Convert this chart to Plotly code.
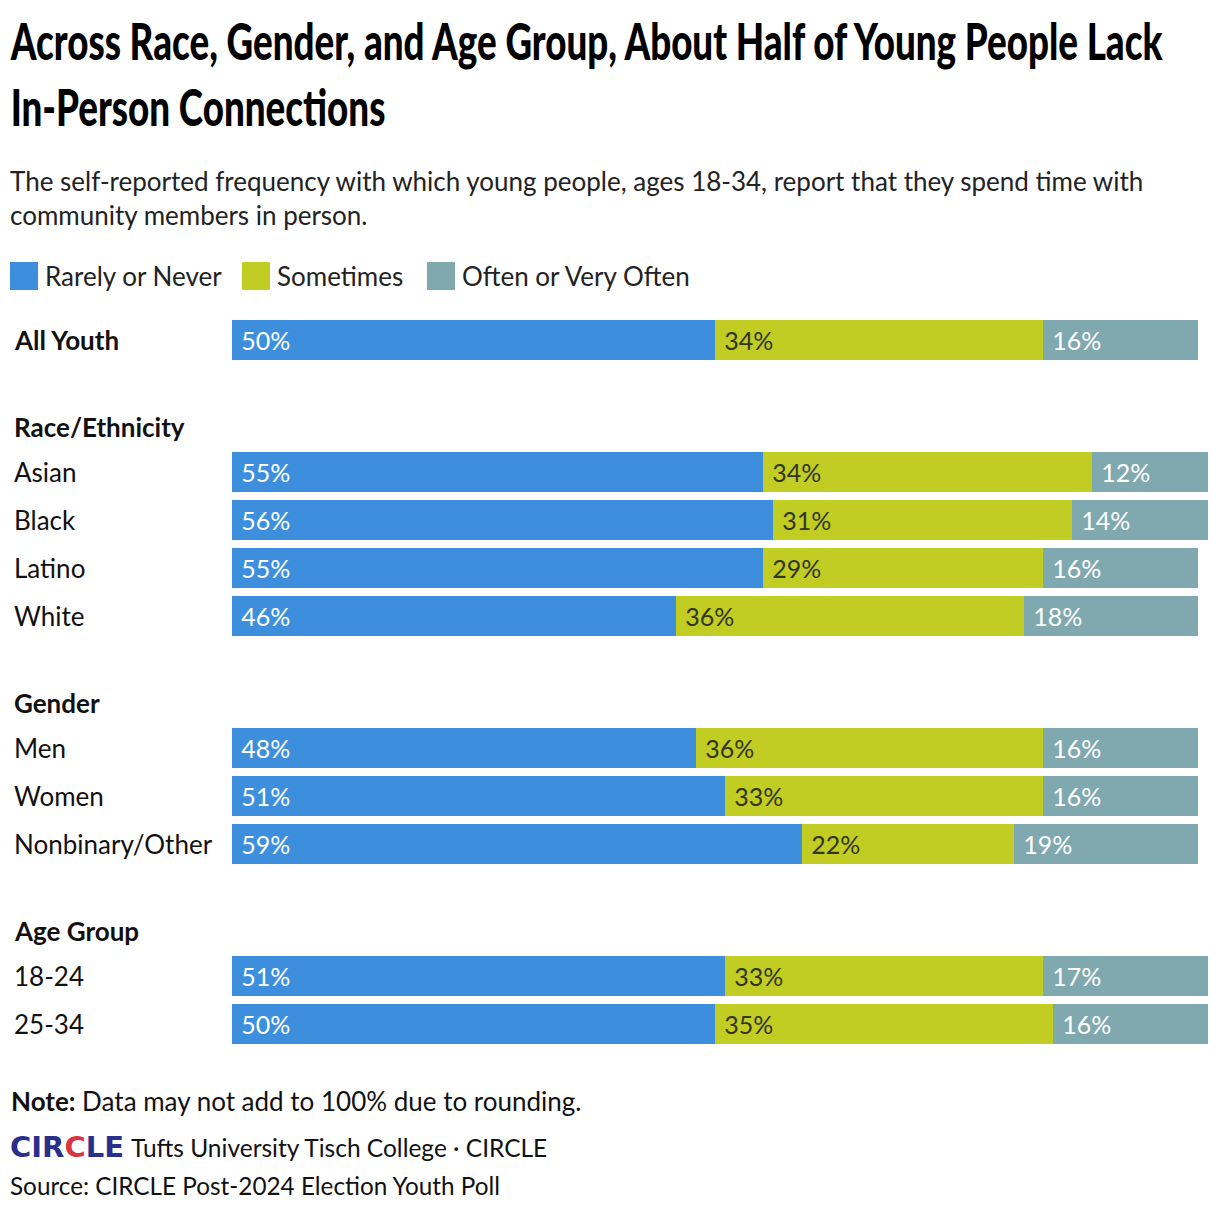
import plotly.graph_objects as go

# ---- data ----
categories = ["All Youth", "Asian", "Black", "Latino", "White",
              "Men", "Women", "Nonbinary/Other", "18-24", "25-34"]
rarely = [50, 55, 56, 55, 46, 48, 51, 59, 51, 50]
sometimes = [34, 34, 31, 29, 36, 36, 33, 22, 33, 35]
often = [16, 12, 14, 16, 18, 16, 16, 19, 17, 16]
series_names = ["Rarely or Never", "Sometimes", "Often or Very Often"]
group_headers = ["Race/Ethnicity", "Gender", "Age Group"]

# ---- layout helpers (row positions in row units) ----
row_pos = [0, 2.75, 3.75, 4.75, 5.75, 8.5, 9.5, 10.5, 13.25, 14.25]
header_pos = [1.8125, 7.5625, 12.3125]

colors = ["#3D8FDD", "#C1CD23", "#7FA9AE"]
text_colors = ["#FFFFFF", "#33351F", "#FFFFFF"]

OFF = 8  # page body margin
W, H = 1212, 1208
ML = 232 - OFF
MT = 300 - OFF
plot_w = 978
MR = W - ML - plot_w
MB = H - (1060 - OFF)
px_per_unit = 9.66
xmax = plot_w / px_per_unit
row_px = 48.0
y_top = (300 - 340) / row_px
y_bot = (1060 - 340) / row_px

FONT = "Lato"
FS = 26

fig = go.Figure()
for name, vals, c, tc in zip(series_names, [rarely, sometimes, often], colors, text_colors):
    fig.add_trace(go.Bar(
        x=vals, y=row_pos, orientation="h", name=name,
        marker=dict(color=c, line=dict(width=0)),
        width=40 / row_px,
        text=[f"\u2009\u2009{v}%" for v in vals], textposition="inside",
        insidetextanchor="start",
        textfont=dict(family=FONT, size=25, color=tc),
        hoverinfo="skip", showlegend=False,
    ))

def px_to_paper_x(px):
    # px in reference page coordinates
    return (px - OFF - ML) / plot_w

def px_to_paper_y(py):
    return 1 - (py - OFF - MT) / (H - MT - MB)

annotations = []
# category labels
for i, (cat, yp) in enumerate(zip(categories, row_pos)):
    txt = f"<b>{cat}</b>" if i == 0 else cat
    annotations.append(dict(x=px_to_paper_x(12), xref="paper", y=yp, yref="y",
                            text=txt, showarrow=False, xanchor="left", yanchor="middle",
                            font=dict(family=FONT, size=FS, color="#111111")))
for hdr, yp in zip(group_headers, header_pos):
    annotations.append(dict(x=px_to_paper_x(12), xref="paper", y=yp, yref="y",
                            text=f"<b>{hdr}</b>", showarrow=False, xanchor="left", yanchor="middle",
                            font=dict(family=FONT, size=FS, color="#111111")))

# title
annotations.append(dict(x=px_to_paper_x(8), xref="paper", y=px_to_paper_y(8), yref="paper",
                        text="Across Race, Gender, and Age Group, About Half of Young People Lack<br>In-Person Connections",
                        showarrow=False, xanchor="left", yanchor="top", align="left",
                        font=dict(family=FONT, size=51, weight=900, color="#000000")))
# subtitle
annotations.append(dict(x=px_to_paper_x(8), xref="paper", y=px_to_paper_y(163), yref="paper",
                        text="The self-reported frequency with which young people, ages 18-34, report that they spend time with<br>community members in person.",
                        showarrow=False, xanchor="left", yanchor="top", align="left",
                        font=dict(family=FONT, size=FS, color="#222222")))

# legend
shapes = []
leg_x = [10, 242, 427]
for lx, name, c in zip(leg_x, series_names, colors):
    shapes.append(dict(type="rect", xref="paper", yref="paper",
                       x0=px_to_paper_x(lx), x1=px_to_paper_x(lx + 28),
                       y0=px_to_paper_y(262), y1=px_to_paper_y(290),
                       fillcolor=c, line=dict(width=0)))
    annotations.append(dict(x=px_to_paper_x(lx + 33), xref="paper", y=px_to_paper_y(276), yref="paper",
                            text=name, showarrow=False, xanchor="left", yanchor="middle",
                            font=dict(family=FONT, size=FS, color="#222222")))

# footer
annotations.append(dict(x=px_to_paper_x(9), xref="paper", y=px_to_paper_y(1101), yref="paper",
                        text="<b>Note:</b> Data may not add to 100% due to rounding.",
                        showarrow=False, xanchor="left", yanchor="middle",
                        font=dict(family=FONT, size=FS, color="#111111")))
annotations.append(dict(x=px_to_paper_x(8), xref="paper", y=px_to_paper_y(1147), yref="paper",
                        text="<b><span style='color:#2A2F8C'>CIR</span><span style='color:#D9343F'>C</span><span style='color:#2A2F8C'>LE</span></b>",
                        showarrow=False, xanchor="left", yanchor="middle",
                        font=dict(family="DejaVu Sans", size=29, color="#2A2F8C")))
annotations.append(dict(x=px_to_paper_x(129), xref="paper", y=px_to_paper_y(1147), yref="paper",
                        text="Tufts University Tisch College · CIRCLE",
                        showarrow=False, xanchor="left", yanchor="middle",
                        font=dict(family=FONT, size=24.5, color="#111111")))
annotations.append(dict(x=px_to_paper_x(8), xref="paper", y=px_to_paper_y(1185), yref="paper",
                        text="Source: CIRCLE Post-2024 Election Youth Poll",
                        showarrow=False, xanchor="left", yanchor="middle",
                        font=dict(family=FONT, size=24.3, color="#111111")))

fig.update_layout(
    barmode="stack",
    width=W, height=H,
    margin=dict(l=ML, r=MR, t=MT, b=MB, pad=0),
    paper_bgcolor="white", plot_bgcolor="white",
    xaxis=dict(range=[0, xmax], visible=False, fixedrange=True),
    yaxis=dict(range=[y_bot, y_top], visible=False, fixedrange=True),
    annotations=annotations, shapes=shapes,
    bargap=0,
)

# condense the headline horizontally to the reference's width (condensed display face)
post_js = """
var gd = document.getElementById('{plot_id}');
gd.querySelectorAll('text.annotation-text').forEach(function(t){
  if (t.textContent.indexOf('Across Race') === 0) {
    var w = t.getBBox().width;
    var s = 1153 / w;
    t.style.transformBox = 'fill-box';
    t.style.transformOrigin = '0 0';
    t.style.transform = 'scaleX(' + s + ')';
  }
});
"""

fig.write_html("out.html", post_script=post_js, config={"displayModeBar": False})
